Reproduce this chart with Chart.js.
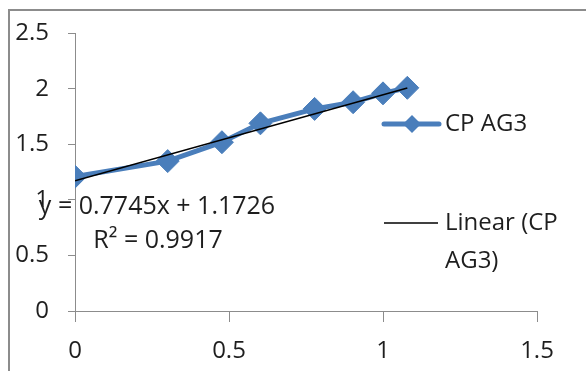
<!DOCTYPE html>
<html>
<head>
<meta charset="utf-8">
<title>CP AG3</title>
<script src="https://cdn.jsdelivr.net/npm/chart.js@4/dist/chart.umd.min.js"></script>
<style>
  html, body { margin: 0; padding: 0; background: #ffffff; overflow: hidden; }
  #wrap { position: relative; width: 586px; height: 371px; }
</style>
</head>
<body>
<div id="wrap"><canvas id="chart" width="586" height="371"></canvas></div>
<script>
// Measured series: log concentration (x) against response (y)
const xValues = [0, 0.301, 0.477, 0.602, 0.778, 0.903, 1, 1.079];
const yValues = [1.21, 1.35, 1.52, 1.69, 1.82, 1.88, 1.96, 2.01];

// Least-squares fit as reported on the chart
const trendSlope = 0.7745;
const trendIntercept = 1.1726;
const trendR2 = 0.9917;

// Axis ticks
const xTicks = [0, 0.5, 1, 1.5];
const yTicks = [0, 0.5, 1, 1.5, 2, 2.5];

const seriesName = 'CP AG3';
const trendNameLines = ['Linear (CP', 'AG3)'];

const BLUE = '#4A7EBB';
const AXIS = '#8C8C8C';
const TEXT = '#1E1E1E';
const FONT = '"Open Sans", "Noto Sans", sans-serif';

const seriesPoints = xValues.map((x, i) => ({ x: x, y: yValues[i] }));
const trendX = [xValues[0], xValues[xValues.length - 1]];
const trendPoints = trendX.map(x => ({ x: x, y: trendSlope * x + trendIntercept }));

// Outer frame, equation label and legend drawn on the canvas
const decorations = {
  id: 'decorations',
  beforeDraw(chart) {
    const ctx = chart.ctx;
    ctx.save();
    ctx.strokeStyle = AXIS;
    ctx.lineWidth = 2;
    ctx.beginPath();
    ctx.moveTo(9, 371);
    ctx.lineTo(9, 10);
    ctx.lineTo(586, 10);
    ctx.stroke();
    ctx.restore();
  },
  afterDraw(chart) {
    const ctx = chart.ctx;
    ctx.save();
    ctx.fillStyle = TEXT;
    ctx.textBaseline = 'middle';

    // Trendline equation
    ctx.font = '25px ' + FONT;
    ctx.textAlign = 'center';
    ctx.fillText('y = ' + trendSlope + 'x + ' + trendIntercept, 157, 207);
    ctx.fillText('R\u00B2 = ' + trendR2, 158, 241);

    // Legend: series entry
    ctx.strokeStyle = BLUE;
    ctx.lineWidth = 5;
    ctx.lineCap = 'round';
    ctx.beginPath();
    ctx.moveTo(384, 124);
    ctx.lineTo(439, 124);
    ctx.stroke();
    ctx.fillStyle = BLUE;
    ctx.beginPath();
    ctx.moveTo(412, 115);
    ctx.lineTo(421, 124);
    ctx.lineTo(412, 133);
    ctx.lineTo(403, 124);
    ctx.closePath();
    ctx.fill();

    // Legend: trendline entry
    ctx.strokeStyle = '#000000';
    ctx.lineWidth = 1.5;
    ctx.lineCap = 'butt';
    ctx.beginPath();
    ctx.moveTo(384, 223);
    ctx.lineTo(438, 223);
    ctx.stroke();

    ctx.font = '24px ' + FONT;
    ctx.fillStyle = TEXT;
    ctx.textAlign = 'left';
    ctx.fillText(seriesName, 445, 124);
    ctx.fillText(trendNameLines[0], 445, 223);
    ctx.fillText(trendNameLines[1], 445, 261);
    ctx.restore();
  }
};

new Chart(document.getElementById('chart'), {
  type: 'scatter',
  data: {
    datasets: [
      {
        label: 'Linear (' + seriesName + ')',
        data: trendPoints,
        showLine: true,
        borderColor: '#000000',
        borderWidth: 1.5,
        pointRadius: 0,
        pointHoverRadius: 0,
        order: 0
      },
      {
        label: seriesName,
        data: seriesPoints,
        showLine: true,
        borderColor: BLUE,
        backgroundColor: BLUE,
        borderWidth: 5,
        pointStyle: 'rectRot',
        pointRadius: 11.5,
        pointHoverRadius: 11.5,
        pointBackgroundColor: BLUE,
        pointBorderColor: BLUE,
        pointBorderWidth: 1,
        order: 1
      }
    ]
  },
  options: {
    responsive: false,
    animation: false,
    devicePixelRatio: 1,
    layout: { padding: { left: 0, right: 49, top: 30, bottom: 0 } },
    plugins: {
      legend: { display: false },
      tooltip: { enabled: false }
    },
    scales: {
      x: {
        type: 'linear',
        min: 0,
        max: 1.5,
        afterFit(scale) { scale.height = 60; },
        afterBuildTicks(scale) { scale.ticks = xTicks.map(v => ({ value: v })); },
        border: { display: true, color: AXIS, width: 1 },
        grid: { drawOnChartArea: false, drawTicks: true, tickLength: 11, color: AXIS },
        ticks: {
          padding: 15,
          color: TEXT,
          font: { family: FONT, size: 24 },
          callback: v => String(v)
        }
      },
      y: {
        type: 'linear',
        min: 0,
        max: 2.5,
        afterFit(scale) { scale.width = 75; },
        afterBuildTicks(scale) { scale.ticks = yTicks.map(v => ({ value: v })); },
        border: { display: true, color: AXIS, width: 1 },
        grid: { drawOnChartArea: false, drawTicks: true, tickLength: 7, color: AXIS },
        ticks: {
          padding: 19,
          color: TEXT,
          font: { family: FONT, size: 24 },
          callback: v => String(v)
        }
      }
    }
  },
  plugins: [decorations]
});
</script>
</body>
</html>
